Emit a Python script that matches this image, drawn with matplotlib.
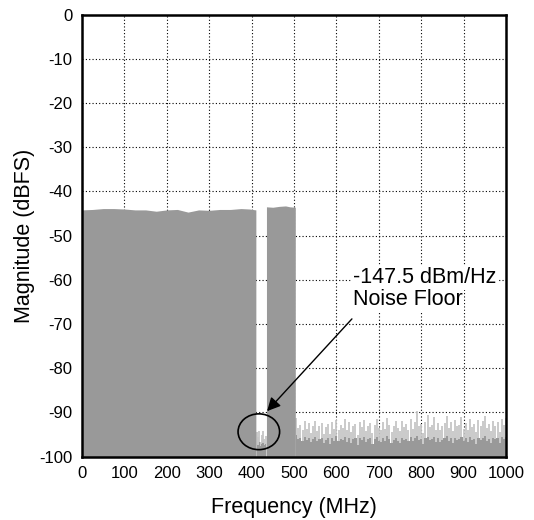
import numpy as np
import matplotlib.pyplot as plt
from matplotlib.patches import Ellipse

plt.rcParams['font.family'] = ['Liberation Sans', 'DejaVu Sans']
plt.rcParams['axes.unicode_minus'] = False

# signal band tops (MHz, dBFS)
band1_f = [0, 25, 50, 75, 100, 125, 150, 175, 200, 225, 250, 275, 300, 325, 350, 375, 395, 410]
band1_db = [-44.2, -44.1, -43.9, -43.9, -44.0, -44.2, -44.2, -44.5, -44.2, -44.1, -44.7, -44.2,
            -44.3, -44.1, -44.1, -43.9, -44.0, -44.2]
band2_f = [435, 450, 465, 480, 490, 503]
band2_db = [-43.5, -43.6, -43.4, -43.3, -43.5, -43.6]

# noise inside the notch
gap_f = [412, 415, 418, 421, 424, 427, 430, 433]
gap_peak = [-94.5, -95.6, -94.2, -96.8, -95.1, -94.3, -96.0, -95.4]
gap_floor = [-97.0, -97.3, -96.8, -97.6, -97.2, -96.9, -97.5, -97.1]

# noise floor above the band, 5 MHz steps from 505 MHz
noise_f = list(range(505, 1001, 5))
noise_peak = [-91.2, -93.5, -92.8, -94.1, -92.0, -93.8, -92.5, -94.6, -93.0, -91.9,
              -94.2, -93.1, -92.4, -94.8, -93.3, -92.6, -95.0, -92.2, -93.7, -91.8,
              -94.0, -92.9, -93.6, -91.5, -93.9, -92.1, -94.4, -93.2, -92.7, -95.1,
              -92.3, -93.4, -91.7, -94.3, -93.0, -92.5, -94.7, -92.8, -91.6, -93.5,
              -94.1, -92.2, -93.8, -91.3, -92.9, -94.5, -93.1, -92.0, -93.6, -94.2,
              -91.9, -93.3, -92.6, -94.0, -91.4, -93.7, -92.3, -89.8, -93.2, -92.7,
              -94.6, -92.1, -90.5, -93.4, -92.8, -91.1, -93.9, -92.4, -94.1, -93.0,
              -92.5, -90.9, -93.6, -92.2, -94.3, -91.7, -93.1, -92.9, -91.0, -93.8,
              -92.4, -94.0, -91.5, -93.3, -92.7, -94.5, -91.8, -93.2, -92.0, -90.8,
              -93.5, -92.6, -94.2, -91.9, -93.0, -92.3, -94.4, -91.6, -92.8, -91.2]
noise_floor = [-95.2, -96.0, -95.8, -96.5, -95.5, -96.3, -95.9, -96.8, -96.1, -95.6,
               -96.4, -96.0, -95.7, -97.0, -96.2, -95.9, -97.2, -95.8, -96.5, -95.4,
               -96.6, -96.0, -96.3, -95.5, -96.7, -95.8, -96.9, -96.1, -95.9, -97.3,
               -95.7, -96.2, -95.6, -96.8, -96.0, -95.8, -97.1, -96.0, -95.5, -96.4,
               -96.7, -95.9, -96.5, -95.4, -96.1, -97.0, -96.2, -95.8, -96.4, -96.9,
               -95.7, -96.3, -96.0, -96.6, -95.5, -96.5, -95.9, -95.3, -96.2, -96.0,
               -97.1, -95.8, -95.6, -96.3, -96.1, -95.5, -96.7, -95.9, -96.8, -96.2,
               -95.9, -95.4, -96.5, -95.8, -97.0, -95.7, -96.2, -96.0, -95.5, -96.6,
               -95.9, -96.8, -95.6, -96.3, -96.1, -97.2, -95.8, -96.2, -95.9, -95.4,
               -96.5, -96.0, -97.0, -95.8, -96.1, -95.9, -96.9, -95.6, -96.0, -95.5]

dark = '#999999'
light = '#c6c6c6'

fig = plt.figure(figsize=(5.34, 5.2), dpi=100)
ax = fig.add_axes([0.1536, 0.1221, 0.794, 0.8499])

# signal bands
ax.fill_between(band1_f, band1_db, -100, color=dark, lw=0, zorder=1.5)
ax.fill_between(band2_f, band2_db, -100, color=dark, lw=0, zorder=1.5)

# noise: light spikes, darker floor on top of them
ax.vlines(gap_f, -100, gap_peak, color=light, lw=1.3, zorder=1.2)
ax.fill_between(gap_f, gap_floor, -100, color=dark, lw=0, step='mid', zorder=1.5)
ax.vlines(noise_f, -100, noise_peak, color=light, lw=1.3, zorder=1.2)
ax.fill_between(noise_f, noise_floor, -100, color=dark, lw=0, step='mid', zorder=1.5)

ax.set_xlim(0, 1000)
ax.set_ylim(-100, 0)
ax.set_xticks(np.arange(0, 1001, 100))
ax.set_yticks(np.arange(-100, 1, 10))
ax.set_axisbelow(True)
ax.grid(True, color='black', linestyle=(0, (1, 2)), linewidth=0.8, zorder=0.5)
ax.tick_params(length=0, labelsize=12, pad=7)
for s in ax.spines.values():
    s.set_linewidth(1.8)
    s.set_zorder(5)

ax.set_xlabel('Frequency (MHz)', fontsize=15.5, labelpad=11)
ax.set_ylabel('Magnitude (dBFS)', fontsize=15.5, labelpad=3)

# annotation
ax.add_patch(Ellipse((417, -94.4), 98, 8.1, fill=False, edgecolor='black', lw=1.2, zorder=6))
ax.annotate('', xy=(432, -90.2), xytext=(641, -68.4),
            arrowprops=dict(arrowstyle='-|>', color='black', lw=1.0, mutation_scale=20),
            zorder=6)
ax.text(640, -59.6, '-147.5 dBm/Hz', fontsize=15.5, va='center', ha='left',
        bbox=dict(facecolor='white', edgecolor='none', pad=1), zorder=6)
ax.text(640, -64.5, 'Noise Floor', fontsize=15.5, va='center', ha='left',
        bbox=dict(facecolor='white', edgecolor='none', pad=1), zorder=6)

fig.savefig('out.png', dpi=100)
